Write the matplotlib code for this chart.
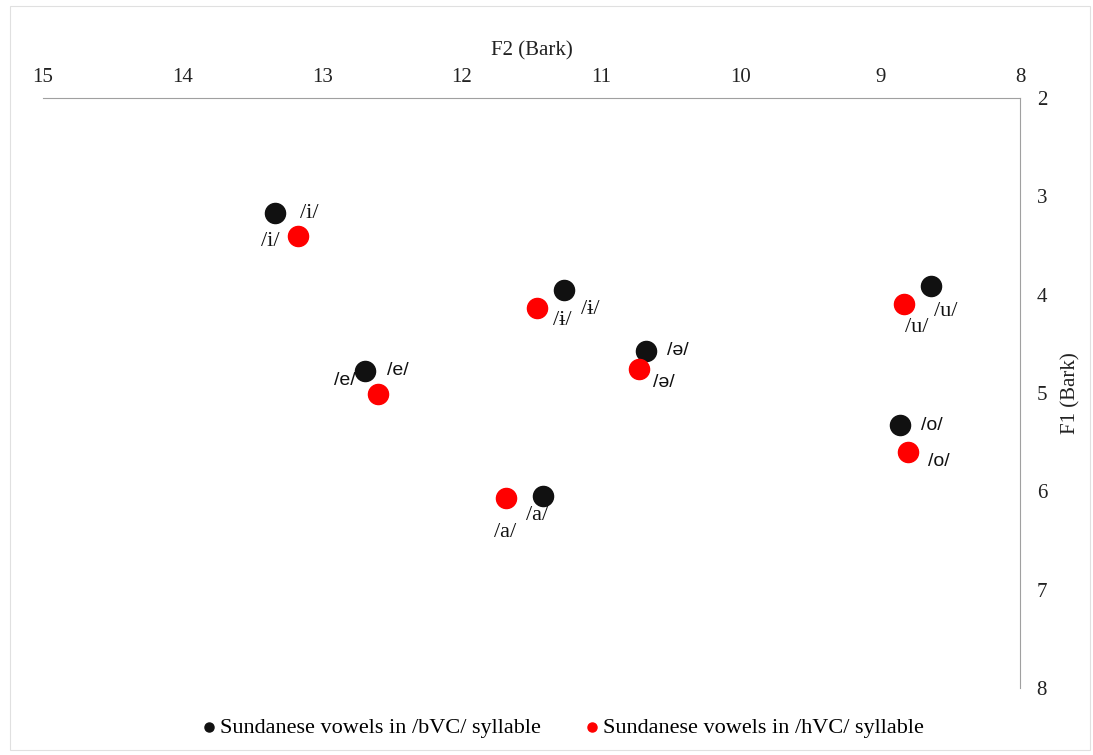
import matplotlib
matplotlib.use('Agg')
import matplotlib.pyplot as plt
from matplotlib.patches import Rectangle

# vowel data (Bark)
vowels = ['i', 'ɨ', 'ə', 'e', 'u', 'o', 'a']
bvc_f2 = [13.34, 11.27, 10.68, 12.69, 8.64, 8.86, 11.42]
bvc_f1 = [3.17, 3.95, 4.57, 4.78, 3.91, 5.33, 6.05]
hvc_f2 = [13.17, 11.46, 10.73, 12.60, 8.83, 8.80, 11.68]
hvc_f1 = [3.40, 4.14, 4.76, 5.01, 4.09, 5.60, 6.07]

x_ticks = [15, 14, 13, 12, 11, 10, 9, 8]
y_ticks = [2, 3, 4, 5, 6, 7, 8]

# label offsets in pixels (dx, dy down)
bvc_off = [(35, 0), (27, 20), (32, 0), (32, -1), (15, 26), (32, 0), (-6, 19)]
hvc_off = [(-28, 6), (25, 12), (25, 13), (-33, -13), (13, 24), (30, 9), (-1, 34)]
sans_labels = ['ə', 'e', 'o']


def main():
    plt.rcParams['font.family'] = ['Liberation Serif', 'DejaVu Serif']
    fig = plt.figure(figsize=(10.93, 7.55), dpi=100)
    ax = fig.add_axes([43 / 1093, 1 - 688 / 755, (1020 - 43) / 1093, (688 - 98) / 755])

    ax.scatter(bvc_f2, bvc_f1, s=210, color='#111111', zorder=3,
               label='Sundanese vowels in /bVC/ syllable')
    ax.scatter(hvc_f2, hvc_f1, s=210, color='#ff0000', zorder=3,
               label='Sundanese vowels in /hVC/ syllable')

    for xs, ys, offs in [(bvc_f2, bvc_f1, bvc_off), (hvc_f2, hvc_f1, hvc_off)]:
        for v, x, y, (dx, dy) in zip(vowels, xs, ys, offs):
            if v in sans_labels:
                fam, fs = ['Liberation Sans', 'DejaVu Sans'], 14
            else:
                fam, fs = ['Liberation Serif', 'DejaVu Serif'], 16
            ax.annotate('/' + v + '/', (x, y), xytext=(dx * 0.72, -dy * 0.72),
                        textcoords='offset points', ha='center', va='center',
                        fontsize=fs, family=fam, color='#111111')

    ax.set_xlim(15, 8)
    ax.set_ylim(8, 2)
    ax.set_xticks(x_ticks)
    ax.set_yticks(y_ticks)
    ax.xaxis.tick_top()
    ax.yaxis.tick_right()
    ax.tick_params(length=0, labelsize=15, colors='#222222', pad=8)
    ax.tick_params(axis='y', pad=12)
    for s in ['left', 'bottom']:
        ax.spines[s].set_visible(False)
    for s in ['top', 'right']:
        ax.spines[s].set_color('#a0a0a0')
        ax.spines[s].set_linewidth(0.8)

    ax.set_xlabel('F2 (Bark)', fontsize=15, color='#222222', labelpad=9)
    ax.xaxis.set_label_position('top')
    ax.set_ylabel('F1 (Bark)', fontsize=15, color='#222222', labelpad=10)
    ax.yaxis.set_label_position('right')

    fig.legend(loc='center', bbox_to_anchor=(0.513, 1 - 728 / 755), ncol=2,
               frameon=False, fontsize=16, markerscale=0.45,
               handletextpad=0.0, columnspacing=1.8, handlelength=1.0)

    fig.patches.append(Rectangle((10 / 1093, 5 / 755), 1080 / 1093, 744 / 755,
                                 transform=fig.transFigure, fill=False,
                                 edgecolor='#e0e0e0', linewidth=0.8))

    fig.savefig('out.png', dpi=100)


if __name__ == '__main__':
    main()
